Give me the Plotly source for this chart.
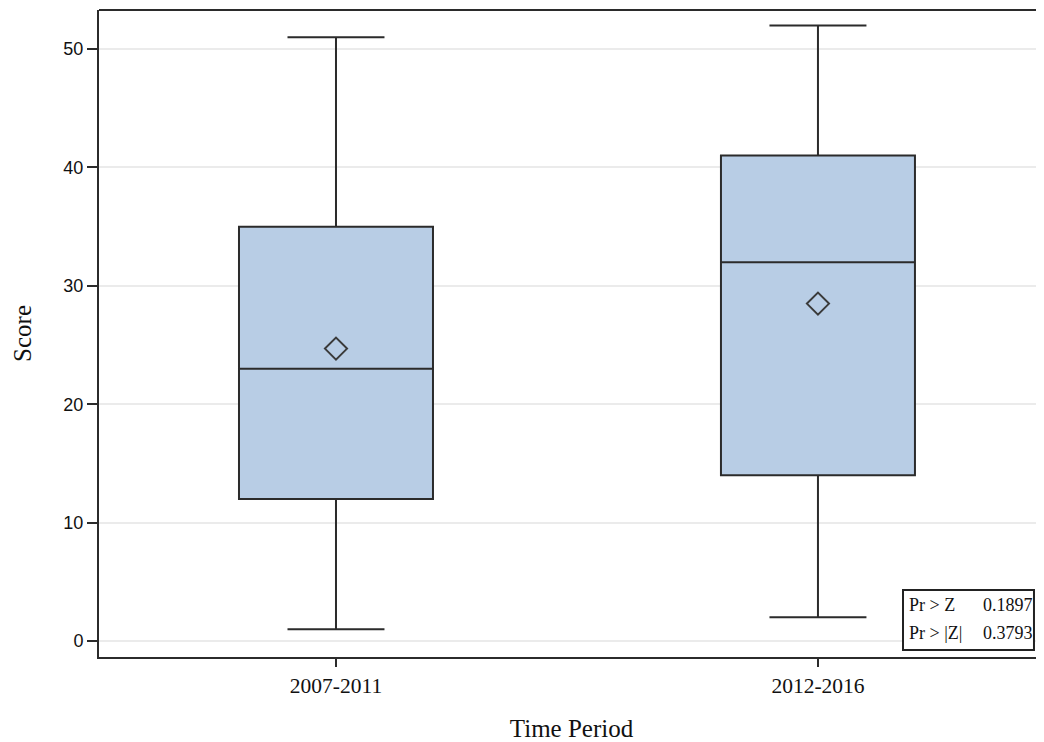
import plotly.graph_objects as go

categories = ["2007-2011", "2012-2016"]
q1 = [12, 14]
median = [23, 32]
q3 = [35, 41]
lower = [1, 2]
upper = [51, 52]
means = [24.7, 28.5]
y_ticks = [0, 10, 20, 30, 40, 50]
stats_labels = ["Pr > Z", "Pr > |Z|"]
stats_values = ["0.1897", "0.3793"]

# page has an 8px body margin; figure sized so plot area lands where the reference has it
W, H = 1036, 734
left, right, top, bottom = 91, 0, 2, 85
xpos = [0, 1]

fig = go.Figure()
fig.add_trace(go.Box(
    x=xpos, q1=q1, median=median, q3=q3, lowerfence=lower, upperfence=upper,
    fillcolor="#b8cde5", line=dict(color="#2b2b2b", width=2),
    width=0.4025, whiskerwidth=0.5, boxpoints=False, showlegend=False,
))
fig.add_trace(go.Scatter(
    x=xpos, y=means, mode="markers",
    marker=dict(symbol="diamond-open", size=17, color="#3a3a3a", line=dict(width=2)),
    showlegend=False,
))

serif = "Liberation Serif"
fig.update_layout(
    width=W, height=H,
    margin=dict(l=left, r=right, t=top, b=bottom),
    plot_bgcolor="white", paper_bgcolor="white",
    xaxis=dict(
        range=[-0.4917, 1.469], tickvals=xpos, ticktext=categories,
        showgrid=False, zeroline=False, automargin=False,
        showline=True, linecolor="#2b2b2b", linewidth=2, mirror=False,
        ticks="outside", ticklen=8, tickwidth=2, tickcolor="#2b2b2b",
        tickfont=dict(family=serif, size=21.5, color="#111"),
        title=dict(text="Time Period", font=dict(family=serif, size=25, color="#111"), standoff=26),
    ),
    yaxis=dict(
        range=[-1.35, 53.3], tickvals=y_ticks,
        showgrid=True, gridcolor="#ebebeb", gridwidth=2, zeroline=False, automargin=False,
        showline=True, linecolor="#2b2b2b", linewidth=2,
        ticks="outside", ticklen=10, tickwidth=2, tickcolor="#2b2b2b",
        tickfont=dict(family="Liberation Sans", size=18, color="#111"),
        title=dict(text="Score", font=dict(family=serif, size=25, color="#111"), standoff=25),
    ),
    shapes=[
        dict(type="line", xref="paper", yref="paper", x0=0, x1=1, y0=1, y1=1,
             line=dict(color="#2b2b2b", width=2)),
        dict(type="rect", xref="paper", yref="paper", x0=0.8508, x1=0.9894, y0=0.0108, y1=0.1036,
             line=dict(color="#222", width=2), fillcolor="white", layer="above"),
    ],
)

row_y = [0.0798, 0.0366]
for lab, val, ry in zip(stats_labels, stats_values, row_y):
    fig.add_annotation(xref="paper", yref="paper", x=0.8550, y=ry, xanchor="left", yanchor="middle",
                       text=lab, showarrow=False, font=dict(family=serif, size=18, color="#111"))
    fig.add_annotation(xref="paper", yref="paper", x=0.9335, y=ry, xanchor="left", yanchor="middle",
                       text=val, showarrow=False, font=dict(family=serif, size=18, color="#111"))

fig.write_html("out.html")
